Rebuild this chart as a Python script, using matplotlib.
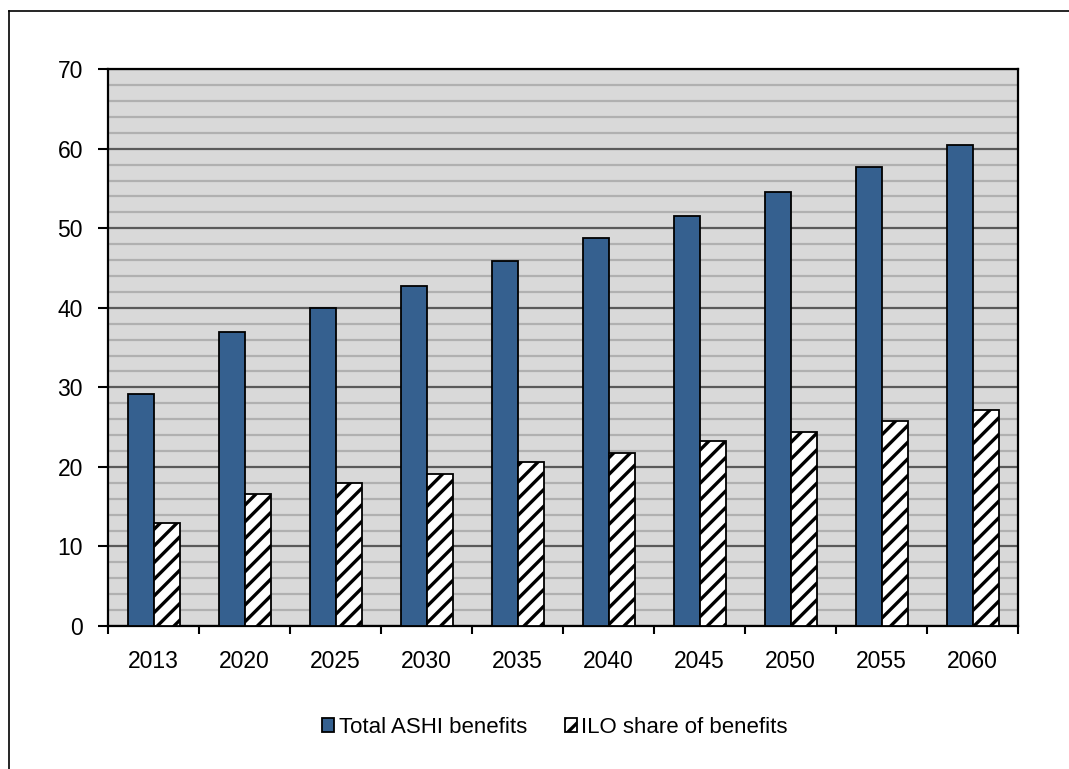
import numpy as np
import matplotlib
matplotlib.use("Agg")
import matplotlib.pyplot as plt
from matplotlib.ticker import MultipleLocator, FixedLocator
from matplotlib.lines import Line2D

years = ["2013", "2020", "2025", "2030", "2035", "2040", "2045", "2050", "2055", "2060"]
total_ashi = [29.2, 36.9, 40.0, 42.8, 45.9, 48.8, 51.6, 54.6, 57.7, 60.5]
ilo_share = [13.0, 16.6, 18.0, 19.1, 20.6, 21.8, 23.2, 24.4, 25.8, 27.2]

plt.rcParams['font.family'] = ['Liberation Sans', 'DejaVu Sans']
plt.rcParams['hatch.linewidth'] = 2.4

fig = plt.figure(figsize=(10.69, 7.69), dpi=100)
ax = fig.add_axes([0.101, 0.186, 0.851, 0.724])
ax.set_facecolor("#d9d9d9")

x = np.arange(len(years))
w = 0.285
ax.bar(x - w / 2 + 0.01, total_ashi, w, color="#35608f", edgecolor="black",
       linewidth=1.3, label="Total ASHI benefits", zorder=3)
ax.bar(x + w / 2 + 0.01, ilo_share, w, color="white", edgecolor="black",
       hatch="//", linewidth=1.3, label="ILO share of benefits", zorder=3)

ax.set_xlim(-0.5, len(years) - 0.5)
ax.set_ylim(0, 70)

# y grid: dark lines every 10, light lines every 2
ax.yaxis.set_major_locator(MultipleLocator(10))
ax.yaxis.set_minor_locator(MultipleLocator(2))
ax.grid(axis="y", which="major", color="#5a5a5a", linewidth=1.6, zorder=1)
ax.grid(axis="y", which="minor", color="#b0b0b0", linewidth=1.6, zorder=0)
ax.tick_params(axis="y", which="major", length=7, width=1.5, labelsize=16.5, pad=11)
ax.tick_params(axis="y", which="minor", length=0)

# x: labels at group centres, tick marks between groups
ax.set_xticks(x)
ax.set_xticklabels(years)
ax.xaxis.set_minor_locator(FixedLocator(np.arange(-0.5, len(years), 1.0)))
ax.tick_params(axis="x", which="major", length=0, labelsize=16.5, pad=17)
ax.tick_params(axis="x", which="minor", length=6, width=1.5)

for s in ax.spines.values():
    s.set_color("black")
    s.set_linewidth(1.6)
ax.set_axisbelow(True)

leg = fig.legend(loc="center", bbox_to_anchor=(0.519, 0.054), ncol=2, frameon=False,
                 fontsize=16, handlelength=0.55, handleheight=0.55, handletextpad=0.2,
                 columnspacing=1.7)

# outer chart frame (left and top edges)
fig.add_artist(Line2D([0.0085, 0.0085], [0, 0.986], color="black", linewidth=1.2,
                      transform=fig.transFigure))
fig.add_artist(Line2D([0.0085, 1.0], [0.986, 0.986], color="black", linewidth=1.2,
                      transform=fig.transFigure))

fig.savefig("out.png", dpi=100)
